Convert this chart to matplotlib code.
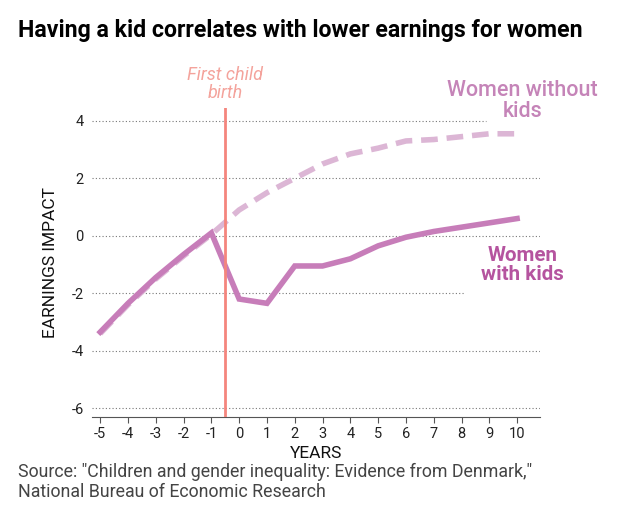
import matplotlib.pyplot as plt
import numpy as np

plt.rcParams['axes.unicode_minus'] = False
plt.rcParams['font.family'] = ['Roboto', 'DejaVu Sans']

# data
years = [-5, -4, -3, -2, -1, 0, 1, 2, 3, 4, 5, 6, 7, 8, 9, 10]
with_kids = [-3.35, -2.35, -1.45, -0.65, 0.1, -2.2, -2.35, -1.05, -1.05,
             -0.8, -0.35, -0.05, 0.15, 0.3, 0.45, 0.6]
without_kids = [-3.4, -2.4, -1.5, -0.7, 0.05, 0.9, 1.5, 2.0, 2.5, 2.85,
                3.05, 3.3, 3.35, 3.45, 3.55, 3.55]
birth_year = -0.5
yticks = [4, 2, 0, -2, -4, -6]
# gridlines stop short where the labels sit
grid_end = [0.88, 1.0, 1.0, 0.83, 1.0, 1.0]

solid_col = '#c77db9'
dash_col = '#dcb6d5'
red_col = '#f4857d'

fig = plt.figure(figsize=(6.4, 5.09), dpi=100)
ax = fig.add_axes([0.144, 0.181, 0.70, 0.607])

for y, end in zip(yticks, grid_end):
    ax.axhline(y, xmax=end, color='#777777', lw=0.8, ls=(0, (1, 2)),
               zorder=1)

ax.plot(years, without_kids, color=dash_col, lw=4, ls=(0, (3, 1.6)),
        zorder=3)
ax.plot(years, with_kids, color=solid_col, lw=4, zorder=4,
        solid_joinstyle='miter')
ax.axvline(birth_year, color=red_col, lw=2, zorder=5)

ax.set_xlim(-5.29, 10.83)
ax.set_ylim(-6.3, 4.45)
ax.set_xticks(years)
ax.set_yticks(yticks)
ax.tick_params(axis='x', length=4, color='#555555', labelsize=10.5,
               labelcolor='#222222', pad=3)
ax.tick_params(axis='y', length=0, labelsize=10.5, labelcolor='#222222',
               pad=6)
for s in ['top', 'right', 'left']:
    ax.spines[s].set_visible(False)
ax.spines['bottom'].set_color('#555555')
ax.set_xlabel('YEARS', fontsize=12.5, color='#111111', labelpad=4)
ax.set_ylabel('EARNINGS IMPACT', fontsize=12.5, color='#111111', labelpad=10)

ax.text(birth_year, 5.28, 'First child\nbirth', color='#f4a39c',
        fontstyle='italic', fontsize=13, ha='center', va='center',
        linespacing=1.05)
ax.text(10.2, 4.68, 'Women without\nkids', color='#c584b8', fontsize=15.5,
        fontweight='medium', ha='center', va='center', linespacing=1.0)
ax.text(10.2, -1.0, 'Women\nwith kids', color='#b5549f', fontsize=14.8,
        fontweight='bold', ha='center', va='center', linespacing=1.0,
        zorder=6)

fig.text(0.028, 0.94, 'Having a kid correlates with lower earnings for women',
         fontsize=16.7, fontweight='bold', color='black', va='center')
fig.text(0.028, 0.053, 'Source: "Children and gender inequality: Evidence '
         'from Denmark,"\nNational Bureau of Economic Research',
         fontsize=12.8, color='#444444', va='center', linespacing=1.1)

fig.savefig('out.png', dpi=100)
